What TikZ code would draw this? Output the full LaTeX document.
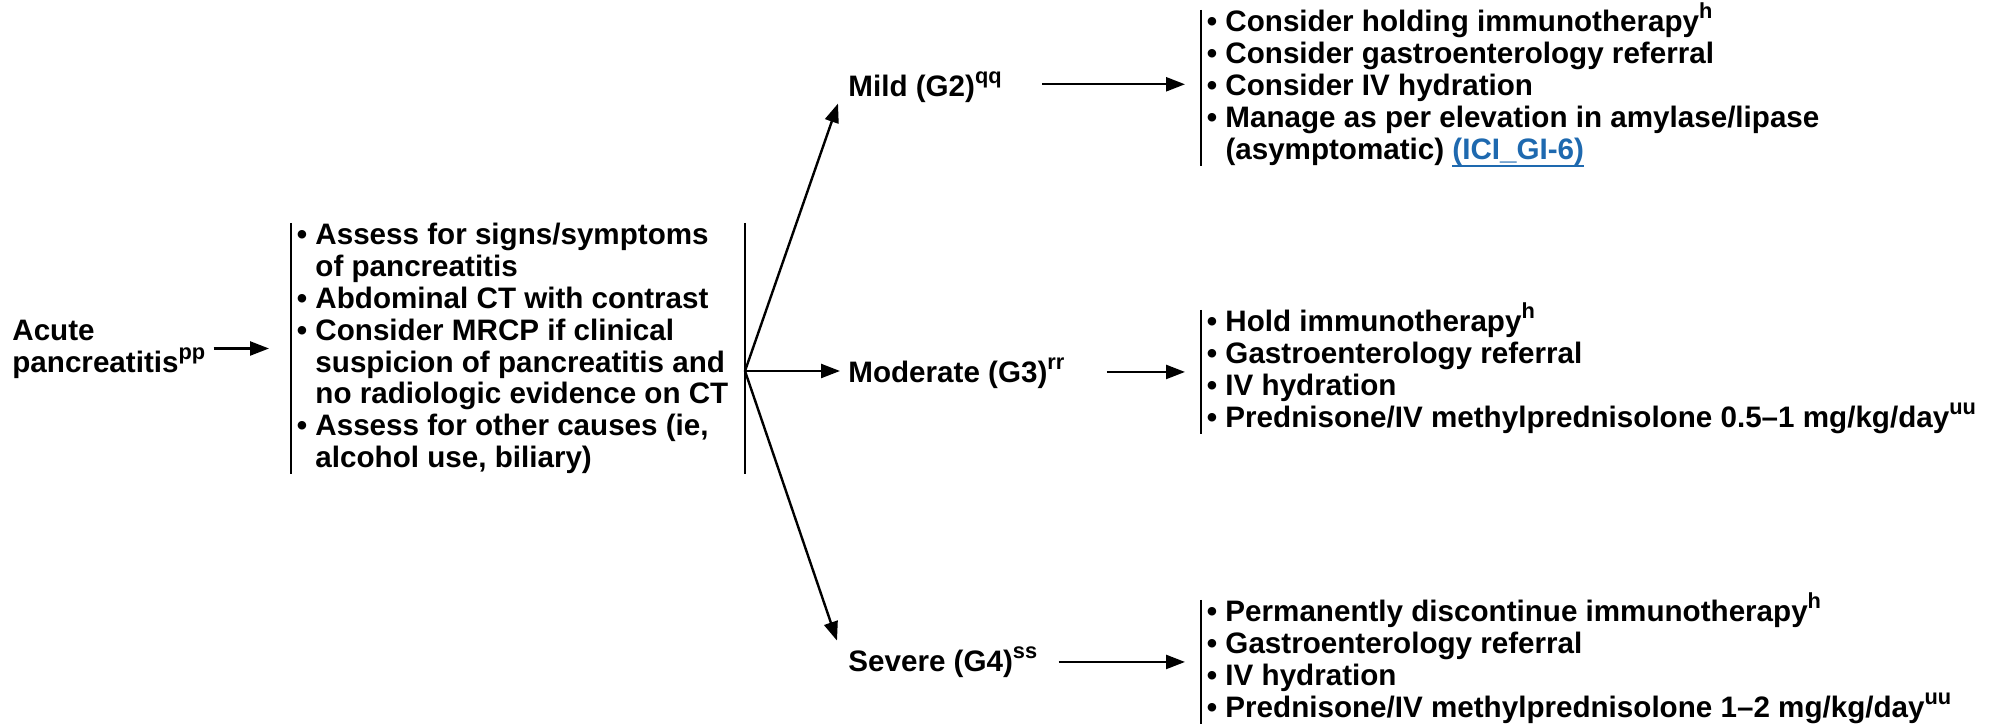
\documentclass[tikz,border=0pt]{standalone}
\usepackage{fontspec}
\setmainfont{Liberation Sans}
\usetikzlibrary{arrows.meta}
\definecolor{linkblue}{RGB}{30,105,175}
% bullet and hanging indent for list lines
\newcommand\bul{•\ }
\newcommand\ind{\hphantom{•\ }}
% superscript note marks
\newcommand\supmark[1]{\raisebox{6.6pt}{\fontsize{10.9}{11}\selectfont #1}}
\newcommand\sups[1]{\smash{\supmark{#1}}}
% underlined cross-reference
\newcommand\ulink[1]{\setbox0=\hbox{#1}\rlap{\smash{\rule[-3.9pt]{\wd0}{1pt}}}\box0}
\begin{document}
\begin{tikzpicture}[x=0.5pt,y=-0.5pt,
  txt/.style={inner sep=0pt, font=\fontsize{14.8}{15.9}\selectfont\bfseries},
  grade/.style={txt, anchor=base west},
  stepsbox/.style={txt, anchor=north west, inner xsep=2.75pt, align=left},
  bar/.style={line width=1.1pt},
  arr/.style={line width=1.2pt, -{Triangle[length=9.5pt,width=7pt]}}]
\useasboundingbox (0,0) rectangle (1992,726);

% entry point
\node[txt, anchor=north west, align=left] (acute) at (12,320)
  {Acute\\pancreatitis\supmark{pp}};

% work-up
\node[stepsbox] (assess) at (291,223)
  {\bul Assess for signs/symptoms\\
   \ind of pancreatitis\\
   \bul Abdominal CT with contrast\\
   \bul Consider MRCP if clinical\\
   \ind suspicion of pancreatitis and\\
   \ind no radiologic evidence on CT\\
   \bul Assess for other causes (ie,\\
   \ind alcohol use, biliary)};

\coordinate (fan) at (745,371);

% grades
\node[grade] (mild) at (848,97) {Mild (G2)\sups{qq}};
\node[grade] (moderate) at (848,383) {Moderate (G3)\sups{rr}};
\node[grade] (severe) at (848,672) {Severe (G4)\sups{ss}};

% management
\node[stepsbox] (mildbox) at (1201,10)
  {\bul Consider holding immunotherapy\sups{h}\\
   \bul Consider gastroenterology referral\\
   \bul Consider IV hydration\\
   \bul Manage as per elevation in amylase/lipase\\
   \ind (asymptomatic) {\color{linkblue}\ulink{(ICI\_GI-6)}}};
\node[stepsbox] (modbox) at (1201,310)
  {\bul Hold immunotherapy\sups{h}\\
   \bul Gastroenterology referral\\
   \bul IV hydration\\
   \bul Prednisone/IV methylprednisolone 0.5–1 mg/kg/day\sups{uu}};
\node[stepsbox] (sevbox) at (1201,600)
  {\bul Permanently discontinue immunotherapy\sups{h}\\
   \bul Gastroenterology referral\\
   \bul IV hydration\\
   \bul Prednisone/IV methylprednisolone 1–2 mg/kg/day\sups{uu}};

% bracket bars
\foreach \b in {assess,mildbox,modbox,sevbox}
  \draw[bar] (\b.north west) -- (\b.south west);
\draw[bar] (assess.north east -| fan) -- (assess.south east -| fan);

% connectors
\draw[arr, shorten <=4pt, shorten >=11pt] (acute.east |- assess.west) -- (assess.west);
\draw[arr] (fan) -- ([xshift=-5pt]mild.south west);
\draw[arr, shorten >=4pt] (fan) -- (fan -| moderate.west);
\draw[arr] (fan) -- ([xshift=-5.5pt,yshift=4.75pt]severe.north west);
\draw[arr, shorten <=20pt, shorten >=8pt] ([yshift=1.75pt]mild.east |- mildbox.west) -- ([yshift=1.75pt]mildbox.west);
\draw[arr, shorten <=21pt, shorten >=8pt] (moderate.east |- modbox.west) -- (modbox.west);
\draw[arr, shorten <=10.5pt, shorten >=8pt] (severe.east |- sevbox.west) -- (sevbox.west);
\end{tikzpicture}
\end{document}
